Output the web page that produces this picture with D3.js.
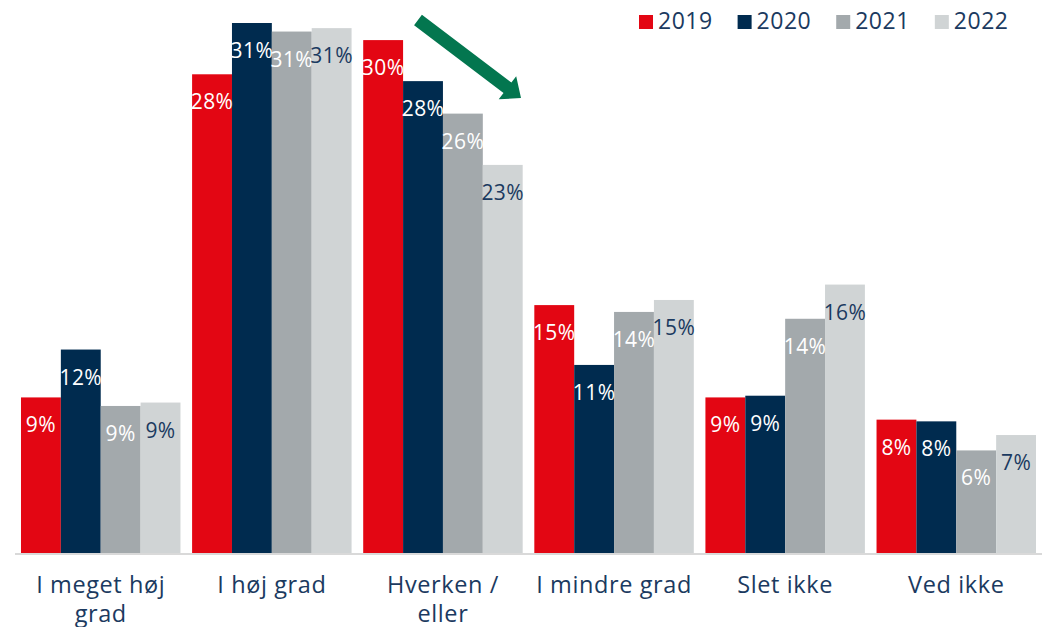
<!DOCTYPE html>
<html>
<head>
<meta charset="utf-8">
<script src="https://cdn.jsdelivr.net/npm/d3@7"></script>
<style>
  body { margin: 0; background: #fff; }
  svg text { font-family: "Open Sans", "DejaVu Sans", sans-serif; }
</style>
</head>
<body>
<script>
const categories = ["I meget høj grad", "I høj grad", "Hverken / eller", "I mindre grad", "Slet ikke", "Ved ikke"];
const years = ["2019", "2020", "2021", "2022"];
const values2019 = [9.1, 28.0, 30.0, 14.5, 9.1, 7.8];
const values2020 = [11.9, 31.0, 27.6, 11.0, 9.2, 7.7];
const values2021 = [8.6, 30.5, 25.7, 14.1, 13.7, 6.0];
const values2022 = [8.8, 30.7, 22.7, 14.8, 15.7, 6.9];
const series = [values2019, values2020, values2021, values2022];

const colors = ["#e30613", "#002b4f", "#a3a9ac", "#d0d4d5"];
const labelColors = ["#ffffff", "#ffffff", "#ffffff", "#1b3a60"];
const textColor = "#1b3a60";

const width = 1048, height = 627;
const baseline = 553;

const svg = d3.select("body").append("svg")
    .attr("width", width)
    .attr("height", height);

const x = d3.scaleBand()
    .domain(categories)
    .range([15, 1042])
    .paddingInner(0.068)
    .paddingOuter(0.035);

const xs = d3.scaleBand()
    .domain(years)
    .range([0, x.bandwidth()]);

const y = d3.scaleLinear()
    .domain([0, 31])
    .range([baseline, 23]);

// flatten into rows for drawing
const rows = [];
categories.forEach((c, i) => {
    years.forEach((yr, j) => {
        rows.push({cat: c, year: yr, idx: j, value: series[j][i]});
    });
});

const groups = svg.append("g");

groups.selectAll("rect.bar")
    .data(rows)
    .enter().append("rect")
    .attr("class", "bar")
    .attr("x", d => x(d.cat) + xs(d.year))
    .attr("y", d => y(d.value))
    .attr("width", xs.bandwidth())
    .attr("height", d => baseline - y(d.value))
    .style("fill", d => colors[d.idx]);

groups.selectAll("text.val")
    .data(rows)
    .enter().append("text")
    .attr("class", "val")
    .attr("x", d => x(d.cat) + xs(d.year) + xs.bandwidth() / 2)
    .attr("y", d => y(d.value) + 35)
    .attr("text-anchor", "middle")
    .style("font-size", "21px")
    .style("letter-spacing", "0.4px")
    .style("fill", d => labelColors[d.idx])
    .text(d => Math.round(d.value) + "%");

// axis line
const xAxis = svg.append("g")
    .attr("transform", "translate(0," + baseline + ")")
    .call(d3.axisBottom(x).tickSize(0).tickPadding(0));
xAxis.select(".domain")
    .attr("d", "M15,1H1042")
    .style("stroke", "#d9d9d9")
    .style("stroke-width", 2);
xAxis.selectAll(".tick text")
    .style("font-size", "23.5px")
    .style("letter-spacing", "0.6px")
    .style("fill", textColor)
    .attr("y", 40)
    .attr("dy", 0)
    .call(wrap, 162);

function wrap(sel, w) {
    sel.each(function() {
        const t = d3.select(this);
        const words = t.text().split(/\s+/);
        t.text(null);
        let line = [];
        let lineNo = 0;
        let tspan = t.append("tspan").attr("x", 0).attr("y", 40);
        words.forEach(word => {
            line.push(word);
            tspan.text(line.join(" "));
            if (tspan.node().getComputedTextLength() > w && line.length > 1) {
                line.pop();
                tspan.text(line.join(" "));
                line = [word];
                lineNo++;
                tspan = t.append("tspan").attr("x", 0).attr("y", 40 + lineNo * 28.5).text(word);
            }
        });
    });
}

// legend
const legend = svg.append("g").attr("transform", "translate(639,15)");
let lx = 0;
years.forEach((yr, j) => {
    const g = legend.append("g").attr("transform", "translate(" + lx + ",0)");
    g.append("rect")
        .attr("width", 14)
        .attr("height", 14)
        .style("fill", colors[j]);
    const t = g.append("text")
        .attr("x", 19)
        .attr("y", 14)
        .style("font-size", "23px")
        .style("letter-spacing", "0.5px")
        .style("fill", textColor)
        .text(yr);
    lx += 19 + t.node().getComputedTextLength() + 25;
});

// arrow annotation
function arrowPath(x1, y1, x2, y2, shaft, head, headLen) {
    const a = Math.atan2(y2 - y1, x2 - x1);
    const len = Math.hypot(x2 - x1, y2 - y1);
    const pts = [
        [0, -shaft / 2], [len - headLen, -shaft / 2], [len - headLen, -head / 2],
        [len, 0], [len - headLen, head / 2], [len - headLen, shaft / 2], [0, shaft / 2]
    ];
    return pts.map(p => [
        x1 + p[0] * Math.cos(a) - p[1] * Math.sin(a),
        y1 + p[0] * Math.sin(a) + p[1] * Math.cos(a)
    ]);
}
svg.append("polygon")
    .attr("points", arrowPath(418, 20, 521, 98, 13, 29, 17).map(p => p.join(",")).join(" "))
    .style("fill", "#03764f");
</script>
</body>
</html>
